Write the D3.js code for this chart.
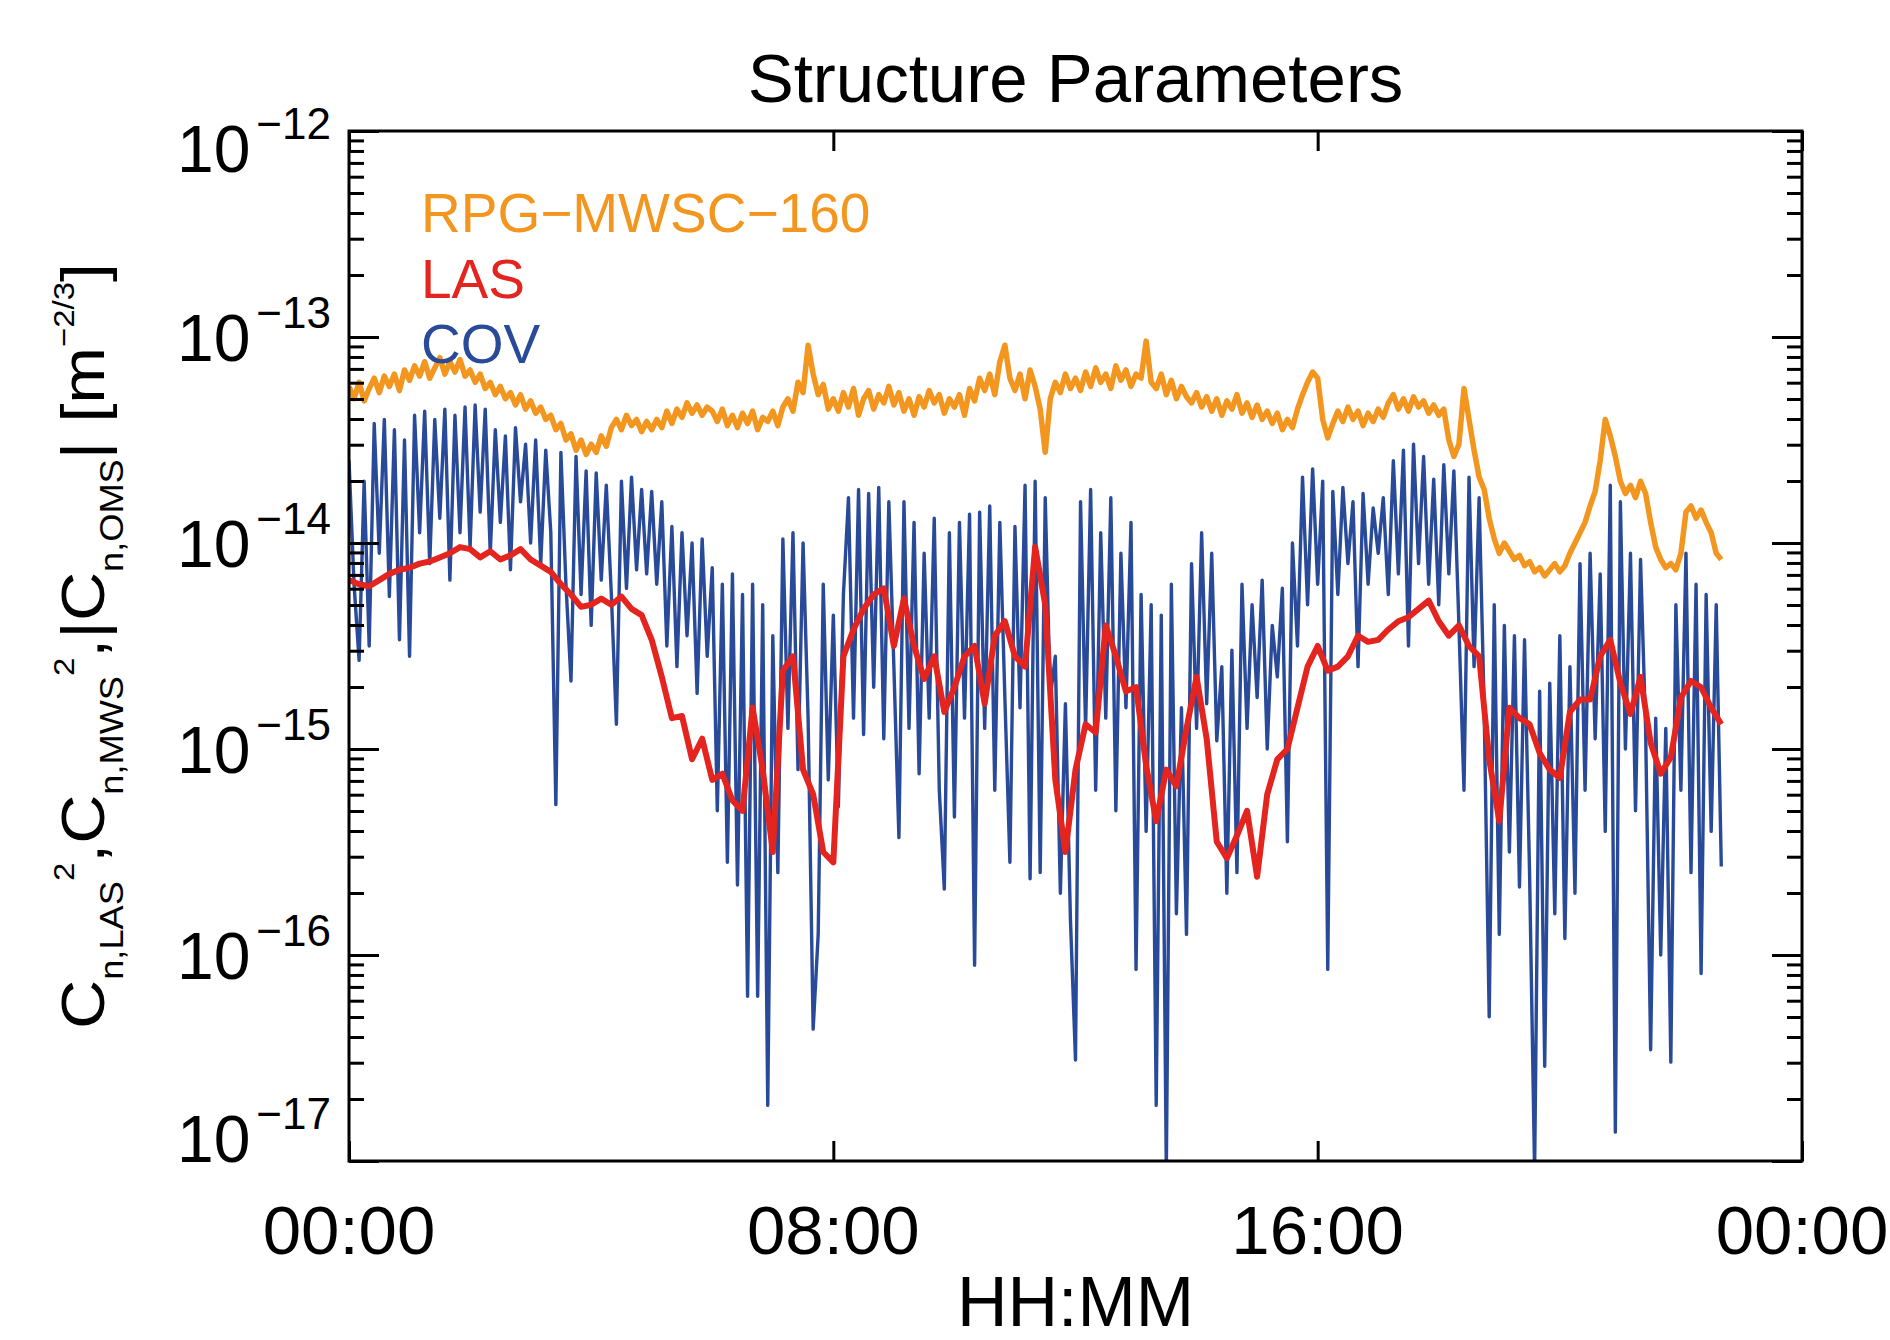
<!DOCTYPE html>
<html>
<head>
<meta charset="utf-8">
<script src="https://cdn.jsdelivr.net/npm/d3@7"></script>
<style>
	body { margin: 0; background: #fff; }
	svg text { font-family: 'Liberation Sans', Arial, Helvetica, sans-serif; fill: #000; }
</style>
</head>
<body>
<svg id="chart" width="1890" height="1340"></svg>
<script>
// log10 of the structure parameter [m^-2/3]
// RPG-MWSC-160 and COV every 5 minutes from 00:00, LAS every 10 minutes
var rpgStepMinutes = 5;
var rpgLog10 = [
	-13.24,-13.30,-13.22,-13.31,-13.25,-13.20,-13.27,-13.19,-13.24,-13.18,-13.26,-13.16,
	-13.21,-13.14,-13.19,-13.12,-13.20,-13.15,-13.10,-13.18,-13.12,-13.17,-13.11,-13.19,
	-13.16,-13.22,-13.18,-13.25,-13.22,-13.28,-13.24,-13.30,-13.27,-13.33,-13.28,-13.35,
	-13.31,-13.37,-13.34,-13.40,-13.38,-13.45,-13.42,-13.50,-13.47,-13.55,-13.50,-13.57,
	-13.52,-13.56,-13.48,-13.53,-13.44,-13.40,-13.45,-13.38,-13.43,-13.40,-13.46,-13.41,
	-13.45,-13.40,-13.44,-13.36,-13.42,-13.35,-13.39,-13.32,-13.37,-13.33,-13.38,-13.34,
	-13.36,-13.41,-13.35,-13.43,-13.38,-13.44,-13.37,-13.42,-13.36,-13.45,-13.39,-13.41,
	-13.36,-13.43,-13.34,-13.30,-13.36,-13.22,-13.27,-13.04,-13.18,-13.28,-13.23,-13.35,
	-13.30,-13.36,-13.27,-13.34,-13.25,-13.38,-13.30,-13.26,-13.35,-13.28,-13.32,-13.24,
	-13.33,-13.27,-13.36,-13.30,-13.38,-13.29,-13.34,-13.26,-13.32,-13.28,-13.37,-13.30,
	-13.34,-13.28,-13.38,-13.25,-13.31,-13.20,-13.26,-13.18,-13.28,-13.12,-13.04,-13.20,
	-13.26,-13.18,-13.30,-13.16,-13.24,-13.35,-13.56,-13.30,-13.22,-13.27,-13.18,-13.25,
	-13.20,-13.26,-13.17,-13.24,-13.15,-13.22,-13.18,-13.25,-13.14,-13.21,-13.16,-13.24,
	-13.18,-13.20,-13.02,-13.22,-13.25,-13.18,-13.28,-13.21,-13.30,-13.24,-13.29,-13.32,
	-13.27,-13.34,-13.29,-13.36,-13.30,-13.38,-13.31,-13.35,-13.28,-13.37,-13.32,-13.39,
	-13.33,-13.40,-13.36,-13.42,-13.37,-13.45,-13.40,-13.44,-13.35,-13.28,-13.22,-13.17,
	-13.20,-13.40,-13.49,-13.42,-13.36,-13.41,-13.34,-13.40,-13.36,-13.43,-13.37,-13.41,
	-13.35,-13.39,-13.32,-13.28,-13.35,-13.30,-13.36,-13.29,-13.34,-13.31,-13.37,-13.33,
	-13.38,-13.35,-13.50,-13.58,-13.52,-13.25,-13.40,-13.55,-13.68,-13.74,-13.88,-13.98,
	-14.05,-14.00,-14.04,-14.08,-14.06,-14.11,-14.09,-14.14,-14.12,-14.16,-14.13,-14.10,
	-14.14,-14.11,-14.05,-14.00,-13.95,-13.90,-13.82,-13.75,-13.60,-13.40,-13.48,-13.58,
	-13.70,-13.76,-13.72,-13.78,-13.70,-13.76,-13.90,-14.02,-14.08,-14.12,-14.10,-14.13,
	-14.05,-13.85,-13.82,-13.88,-13.84,-13.90,-13.95,-14.05,-14.08
];

var lasStepMinutes = 10;
var lasLog10 = [
	-14.18,-14.20,-14.21,-14.18,-14.15,-14.13,-14.12,-14.10,-14.09,-14.07,-14.05,-14.02,
	-14.03,-14.07,-14.04,-14.08,-14.06,-14.03,-14.08,-14.11,-14.14,-14.20,-14.25,-14.31,
	-14.30,-14.27,-14.30,-14.26,-14.32,-14.35,-14.47,-14.65,-14.85,-14.84,-15.05,-14.95,
	-15.15,-15.12,-15.25,-15.30,-14.80,-15.10,-15.50,-14.62,-14.55,-15.10,-15.22,-15.50,
	-15.55,-14.55,-14.42,-14.32,-14.25,-14.22,-14.50,-14.27,-14.50,-14.66,-14.55,-14.82,
	-14.70,-14.55,-14.50,-14.78,-14.45,-14.38,-14.55,-14.60,-14.02,-14.30,-15.15,-15.50,
	-15.10,-14.88,-14.92,-14.40,-14.55,-14.72,-14.70,-15.08,-15.35,-15.10,-15.18,-14.90,
	-14.65,-14.95,-15.45,-15.53,-15.42,-15.30,-15.62,-15.22,-15.05,-15.00,-14.80,-14.60,
	-14.50,-14.62,-14.60,-14.55,-14.45,-14.48,-14.47,-14.42,-14.38,-14.36,-14.32,-14.28,
	-14.38,-14.45,-14.40,-14.50,-14.55,-15.05,-15.35,-14.80,-14.85,-14.88,-15.02,-15.10,
	-15.14,-14.82,-14.76,-14.76,-14.55,-14.47,-14.68,-14.83,-14.65,-14.97,-15.12,-15.04,
	-14.75,-14.67,-14.70,-14.80,-14.88
];

var covStepMinutes = 5;
var covLog10 = [
	-13.60,-14.20,-14.57,-13.70,-14.50,-13.42,-14.05,-13.40,-14.26,-13.45,-14.47,-13.50,
	-14.55,-13.38,-13.95,-13.36,-14.10,-13.40,-13.88,-13.35,-14.18,-13.38,-13.95,-13.34,
	-14.02,-13.33,-13.85,-13.35,-14.05,-13.45,-13.90,-13.48,-14.13,-13.44,-13.80,-13.52,
	-14.00,-13.50,-14.10,-13.55,-13.95,-15.27,-13.56,-14.20,-14.67,-13.58,-14.25,-13.65,
	-14.40,-13.66,-14.18,-13.72,-14.25,-14.88,-13.70,-14.22,-13.68,-14.13,-13.74,-14.15,
	-13.75,-14.20,-13.80,-14.50,-13.92,-14.60,-13.95,-14.45,-14.00,-14.73,-13.98,-14.55,
	-14.12,-15.30,-14.20,-15.55,-14.15,-15.66,-14.25,-16.20,-14.20,-16.20,-14.30,-16.73,
	-14.45,-15.60,-13.98,-14.90,-13.95,-15.10,-14.00,-14.85,-16.36,-15.90,-14.20,-15.15,
	-14.35,-15.28,-14.25,-13.78,-14.85,-13.74,-14.93,-13.76,-14.70,-13.73,-14.95,-13.80,
	-14.60,-15.43,-13.80,-14.90,-13.90,-15.12,-14.05,-14.85,-13.88,-15.20,-15.68,-13.95,
	-15.33,-13.90,-14.85,-13.86,-16.05,-13.85,-14.90,-13.82,-15.20,-13.90,-14.75,-15.55,
	-13.92,-14.80,-13.72,-15.63,-13.70,-15.60,-13.78,-14.75,-14.55,-15.70,-14.78,-15.83,
	-16.51,-13.80,-14.90,-13.74,-15.20,-13.95,-14.85,-13.78,-15.30,-14.05,-14.80,-13.90,
	-16.07,-14.25,-15.40,-14.30,-16.73,-14.35,-17.05,-14.20,-15.80,-14.80,-15.90,-14.10,
	-14.90,-13.95,-14.78,-14.05,-14.96,-14.60,-15.70,-14.52,-15.60,-14.20,-14.90,-14.30,
	-14.75,-14.18,-15.00,-14.40,-14.65,-14.22,-15.45,-14.00,-14.50,-13.68,-14.30,-13.64,
	-14.20,-13.70,-16.07,-13.75,-14.25,-13.73,-14.10,-13.80,-14.60,-13.76,-14.20,-13.83,
	-14.05,-13.78,-14.25,-13.60,-14.15,-13.55,-14.50,-13.52,-14.10,-13.58,-14.20,-13.69,
	-14.30,-13.62,-14.15,-13.65,-14.40,-15.20,-13.68,-14.60,-13.78,-14.80,-16.30,-14.30,
	-15.90,-14.40,-15.50,-14.45,-15.67,-14.47,-15.60,-17.05,-14.72,-16.54,-14.68,-15.80,
	-14.45,-15.92,-14.60,-15.70,-14.10,-15.20,-14.05,-14.95,-14.15,-15.40,-13.72,-16.86,
	-13.80,-15.00,-14.05,-15.30,-14.08,-14.90,-16.46,-14.85,-16.00,-14.90,-16.52,-14.30,
	-15.20,-14.05,-15.60,-14.20,-16.09,-14.25,-15.40,-14.30,-15.57
];

var hourTicks = [0, 8, 16, 24];
var hourLabels = ['00:00', '08:00', '16:00', '00:00'];
var decadeExponents = [-17, -16, -15, -14, -13, -12];
var seriesNames = ['RPG\u2212MWSC\u2212160', 'LAS', 'COV'];
var seriesColors = ['#f3961f', '#e3241f', '#294a99'];

var params = {
	left: 349,
	right: 1802,
	top: 131,
	bottom: 1161
};

function toPoints(logs, stepMinutes) {
	return logs.map(function(v, i) { return { hour: i * stepMinutes / 60, value: Math.pow(10, v) }; });
}

var svg = d3.select('#chart');

var xScale = d3.scaleLinear()
	.domain([0, 24])
	.range([params.left, params.right]);

var yScale = d3.scaleLog()
	.domain([Math.pow(10, decadeExponents[0]), Math.pow(10, decadeExponents[decadeExponents.length - 1])])
	.range([params.bottom, params.top]);

svg.append('defs').append('clipPath').attr('id', 'graph-clip')
	.append('rect')
		.attr('x', params.left)
		.attr('y', params.top)
		.attr('width', params.right - params.left)
		.attr('height', params.bottom - params.top);

function drawData() {
	var line = d3.line()
		.x(function(d) { return xScale(d.hour); })
		.y(function(d) { return yScale(d.value); });

	var graphArea = svg.append('g').attr('clip-path', 'url(#graph-clip)');

	// blue underneath, red on top
	var series = [
		{ points: toPoints(covLog10, covStepMinutes), color: seriesColors[2], width: 3.4 },
		{ points: toPoints(rpgLog10, rpgStepMinutes), color: seriesColors[0], width: 5.5 },
		{ points: toPoints(lasLog10, lasStepMinutes), color: seriesColors[1], width: 6 }
	];

	graphArea.selectAll('path.series').data(series).enter().append('path')
		.attr('class', 'series')
		.attr('fill', 'none')
		.attr('stroke', function(d) { return d.color; })
		.attr('stroke-width', function(d) { return d.width; })
		.attr('stroke-linejoin', 'round')
		.attr('d', function(d) { return line(d.points); });
}
drawData();

function drawAxes() {
	var majors = decadeExponents.map(function(e) { return Math.pow(10, e); });
	var minors = [];
	decadeExponents.slice(0, -1).forEach(function(e) {
		for (var m = 2; m <= 9; m++) minors.push(m * Math.pow(10, e));
	});

	function styleAxis(g) {
		g.select('.domain').remove();
		g.selectAll('.tick line').attr('stroke', '#000').attr('stroke-width', 3);
	}

	svg.append('g').attr('transform', 'translate(' + params.left + ',0)')
		.call(d3.axisLeft(yScale).tickValues(majors).tickSize(-30).tickFormat(''))
		.call(styleAxis);
	svg.append('g').attr('transform', 'translate(' + params.left + ',0)')
		.call(d3.axisLeft(yScale).tickValues(minors).tickSize(-15).tickFormat(''))
		.call(styleAxis);
	svg.append('g').attr('transform', 'translate(' + params.right + ',0)')
		.call(d3.axisRight(yScale).tickValues(majors).tickSize(-30).tickFormat(''))
		.call(styleAxis);
	svg.append('g').attr('transform', 'translate(' + params.right + ',0)')
		.call(d3.axisRight(yScale).tickValues(minors).tickSize(-15).tickFormat(''))
		.call(styleAxis);
	svg.append('g').attr('transform', 'translate(0,' + params.bottom + ')')
		.call(d3.axisBottom(xScale).tickValues(hourTicks).tickSize(-20).tickFormat(''))
		.call(styleAxis);
	svg.append('g').attr('transform', 'translate(0,' + params.top + ')')
		.call(d3.axisTop(xScale).tickValues(hourTicks).tickSize(-20).tickFormat(''))
		.call(styleAxis);

	svg.append('rect')
		.attr('x', params.left)
		.attr('y', params.top)
		.attr('width', params.right - params.left)
		.attr('height', params.bottom - params.top)
		.attr('fill', 'none')
		.attr('stroke', '#000')
		.attr('stroke-width', 3);

	// 10^n labels, end ones pulled inside the frame like the original
	decadeExponents.forEach(function(e) {
		var cy = Math.max(params.top + 17, Math.min(params.bottom - 23, yScale(Math.pow(10, e))));
		var t = svg.append('text')
			.attr('x', params.left - 18)
			.attr('y', cy + 24)
			.attr('text-anchor', 'end')
			.style('font-size', '66px');
		t.append('tspan').text('10');
		t.append('tspan')
			.attr('dx', 6)
			.attr('dy', -33)
			.style('font-size', '44px')
			.text('\u2212' + Math.abs(e));
	});

	svg.selectAll('text.xlabel').data(hourTicks).enter().append('text')
		.attr('class', 'xlabel')
		.attr('x', function(d) { return xScale(d); })
		.attr('y', params.bottom + 93)
		.attr('text-anchor', 'middle')
		.style('font-size', '69px')
		.text(function(d, i) { return hourLabels[i]; });

	svg.append('text')
		.attr('x', (params.left + params.right) / 2)
		.attr('y', 1326)
		.attr('text-anchor', 'middle')
		.style('font-size', '70px')
		.text('HH:MM');
}
drawAxes();

function drawTitle() {
	svg.append('text')
		.attr('x', (params.left + params.right) / 2)
		.attr('y', 102)
		.attr('text-anchor', 'middle')
		.style('font-size', '69px')
		.text('Structure Parameters');
}
drawTitle();

function drawLegend() {
	var order = [0, 1, 2];
	svg.selectAll('text.legend').data(order).enter().append('text')
		.attr('class', 'legend')
		.attr('x', 421)
		.attr('y', function(d, i) { return 232 + i * 65.5; })
		.style('font-size', '55px')
		.style('fill', function(d) { return seriesColors[d]; })
		.text(function(d) { return seriesNames[d]; });
}
drawLegend();

function drawYTitle() {
	// C_{n,LAS}^2, C_{n,MWS}^2, |C_{n,OMS}| [m^{-2/3}]
	var parts = [
		['C', 'n'], ['n,LAS', 'sub'], ['2', 'sup'], [',', 'n'],
		['C', 'n'], ['n,MWS', 'sub'], ['2', 'sup'], [',', 'n'],
		['|C', 'n'], ['n,OMS', 'sub'], ['|', 'n'],
		[' [m', 'n'], ['\u22122/3', 'sup'], [']', 'n']
	];
	var shift = { n: 0, sub: 19, sup: -30 };
	var size = { n: 62, sub: 33, sup: 30 };

	var g = svg.append('g');
	var t = g.append('text').attr('text-anchor', 'middle').attr('x', 0).attr('y', 0);
	var current = 0;
	parts.forEach(function(p) {
		t.append('tspan')
			.attr('dy', shift[p[1]] - current)
			.style('font-size', size[p[1]] + 'px')
			.text(p[0]);
		current = shift[p[1]];
	});

	var len = t.node().getBBox().width;
	var sx = 766 / len;
	g.attr('transform', 'translate(104,646) rotate(-90) scale(' + sx + ',1)');
}
drawYTitle();
</script>
</body>
</html>
